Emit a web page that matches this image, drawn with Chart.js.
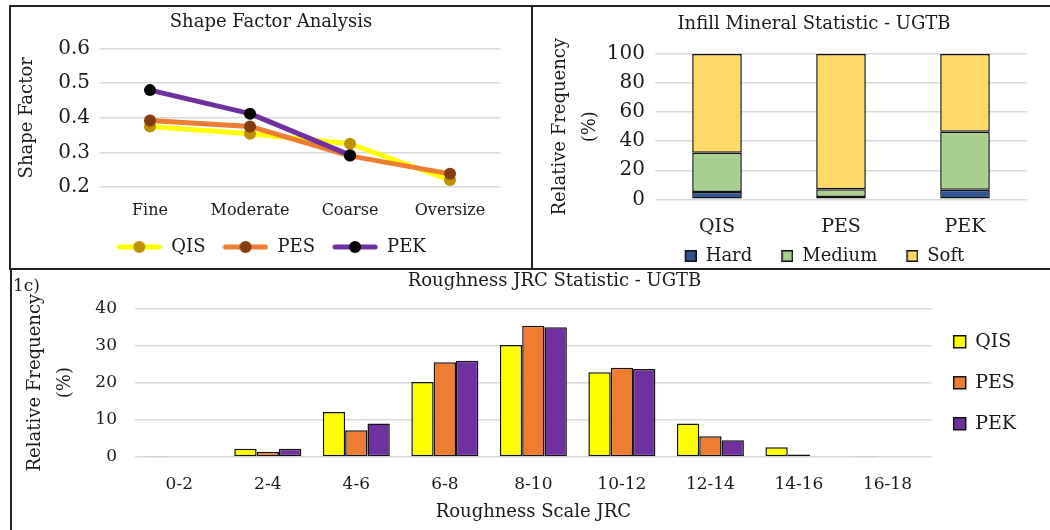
<!DOCTYPE html>
<html>
<head>
<meta charset="utf-8">
<script src="https://cdn.jsdelivr.net/npm/chart.js@4.4.1/dist/chart.umd.min.js"></script>
<style>
  html, body { margin: 0; padding: 0; background: #fff; overflow: hidden; width: 1050px; height: 530px; }
  canvas { position: absolute; }
  .line { position: absolute; background: #222; }
  #tag { position: absolute; left: 13px; top: 275px; font: 17px "DejaVu Serif"; color: #1a1a1a; }
</style>
</head>
<body>
<canvas id="shapeChart" width="519" height="261" style="left:11px; top:7px;"></canvas>
<canvas id="infillChart" width="516" height="267" style="left:534px; top:8px;"></canvas>
<canvas id="jrcChart" width="1037" height="259" style="left:13px; top:271px;"></canvas>

<div class="line" style="left:9px; top:5px; width:1041px; height:2px;"></div>
<div class="line" style="left:9px; top:5px; width:2px; height:265px;"></div>
<div class="line" style="left:531px; top:5px; width:2px; height:265px;"></div>
<div class="line" style="left:9px; top:268px; width:1041px; height:2px;"></div>
<div class="line" style="left:10px; top:268px; width:2px; height:262px;"></div>
<div id="tag">1c)</div>

<script>
// shape factor (line chart)
const shapeCats = ['Fine', 'Moderate', 'Coarse', 'Oversize'];
const qisShape = [0.375, 0.354, 0.325, 0.22];
const pesShape = [0.392, 0.375, 0.29, 0.238];
const pekShape = [0.48, 0.412, 0.292, null];
const shapeTicks = [0.2, 0.3, 0.4, 0.5, 0.6];

// infill mineral (stacked bars)
const infillCats = ['QIS', 'PES', 'PEK'];
const hardVals = [5, 1.5, 6.5];
const mediumVals = [27, 5.5, 40];
const softVals = [68, 93, 53.5];

// roughness JRC (grouped bars)
const jrcCats = ['0-2', '2-4', '4-6', '6-8', '8-10', '10-12', '12-14', '14-16', '16-18'];
const qisJrc = [0.3, 2.2, 12.1, 20.2, 30.1, 22.8, 9.0, 2.6, 0.3];
const pesJrc = [0, 1.4, 7.2, 25.5, 35.3, 24.0, 5.6, 0.7, 0];
const pekJrc = [0, 2.2, 9.0, 25.9, 34.9, 23.7, 4.5, 0, 0];

const ink = '#1a1a1a';
const gridCol = '#d9d9d9';
Chart.defaults.font.family = '"DejaVu Serif"';
Chart.defaults.color = ink;
Chart.defaults.animation = false;
Chart.defaults.responsive = false;
Chart.defaults.devicePixelRatio = 1;
Chart.defaults.plugins.tooltip.enabled = false;

// legend swatch: a short line with the marker on it
function lineSwatch(lineCol, dotCol) {
    const c = document.createElement('canvas');
    c.width = 46; c.height = 14;
    const g = c.getContext('2d');
    g.strokeStyle = lineCol; g.lineWidth = 5; g.lineCap = 'round';
    g.beginPath(); g.moveTo(3, 7); g.lineTo(43, 7); g.stroke();
    g.fillStyle = dotCol;
    g.beginPath(); g.arc(23, 7, 6, 0, Math.PI * 2); g.fill();
    return c;
}

// legend swatch: small outlined square, pushed to the right of a wider slot
function boxSwatch(col) {
    const c = document.createElement('canvas');
    c.width = 33; c.height = 14;
    const g = c.getContext('2d');
    g.fillStyle = col; g.fillRect(21, 1, 12, 12);
    g.strokeStyle = '#111'; g.lineWidth = 1.5; g.strokeRect(21.75, 1.75, 10.5, 10.5);
    return c;
}

function lineSet(label, data, lineCol, dotCol, order) {
    return {
        label: label, data: data, borderColor: lineCol, backgroundColor: lineCol,
        borderWidth: 5, borderJoinStyle: 'round', borderCapStyle: 'round',
        pointRadius: 6, pointBackgroundColor: dotCol, pointBorderWidth: 0,
        tension: 0, order: order
    };
}

new Chart(document.getElementById('shapeChart'), {
    type: 'line',
    data: {
        labels: shapeCats,
        datasets: [
            lineSet('QIS', qisShape, '#ffff00', '#bf9000', 3),
            lineSet('PES', pesShape, '#ed7d31', '#843c0c', 2),
            lineSet('PEK', pekShape, '#7030a0', '#000000', 1)
        ]
    },
    options: {
        layout: { padding: { left: 31, right: 30, top: 0, bottom: 2 } },
        plugins: {
            title: { display: true, text: 'Shape Factor Analysis', color: ink,
                     font: { size: 18, weight: 'normal' }, padding: { top: 5, bottom: 15 } },
            legend: {
                position: 'bottom',
                labels: {
                    usePointStyle: true, pointStyleWidth: 46, padding: 17,
                    font: { size: 18 }, color: ink,
                    generateLabels: function(chart) {
                        return chart.data.datasets.map(function(ds, i) {
                            return { text: ds.label, datasetIndex: i, hidden: false, lineWidth: 0,
                                     fillStyle: ds.borderColor, strokeStyle: ds.borderColor, fontColor: ink,
                                     pointStyle: lineSwatch(ds.borderColor, ds.pointBackgroundColor) };
                        });
                    }
                }
            }
        },
        scales: {
            x: {
                offset: true,
                grid: { display: false, drawTicks: false },
                border: { display: false },
                ticks: { padding: 14, maxRotation: 0, font: { size: 16 } },
                afterFit: function(s) { s.height = 34; }
            },
            y: {
                min: 0.2, max: 0.6,
                grid: { color: gridCol, lineWidth: 1.5, drawTicks: false },
                border: { display: false },
                afterBuildTicks: function(s) { s.ticks = shapeTicks.map(v => ({ value: v })); },
                ticks: { padding: 10, font: { size: 20 } },
                title: { display: true, text: 'Shape Factor', font: { size: 18 }, padding: { top: -25.8, bottom: 0 } },
                afterFit: function(s) { s.width = 58; }
            }
        }
    }
});

function stackSet(label, data, col) {
    return { label: label, data: data, backgroundColor: col, borderColor: '#111', borderWidth: 1.5,
             borderSkipped: false, barPercentage: 0.4, categoryPercentage: 1 };
}

new Chart(document.getElementById('infillChart'), {
    type: 'bar',
    data: {
        labels: infillCats,
        datasets: [
            stackSet('Hard', hardVals, '#2f5597'),
            stackSet('Medium', mediumVals, '#a9d18e'),
            stackSet('Soft', softVals, '#ffd966')
        ]
    },
    options: {
        layout: { padding: { left: 67, right: 23, top: 0, bottom: 0 } },
        plugins: {
            title: { display: true, text: 'Infill Mineral Statistic - UGTB', color: ink,
                     font: { size: 18, weight: 'normal' }, padding: { top: 6, bottom: 18.5 } },
            legend: {
                position: 'bottom',
                labels: {
                    usePointStyle: true, pointStyleWidth: 33, padding: 8,
                    font: { size: 18 }, color: ink,
                    generateLabels: function(chart) {
                        return chart.data.datasets.map(function(ds, i) {
                            return { text: ds.label, datasetIndex: i, hidden: false, lineWidth: 0,
                                     fillStyle: ds.backgroundColor, strokeStyle: '#111', fontColor: ink,
                                     pointStyle: boxSwatch(ds.backgroundColor) };
                        });
                    }
                }
            }
        },
        scales: {
            x: {
                stacked: true,
                grid: { display: false, drawTicks: false },
                border: { display: false },
                ticks: { padding: 16, font: { size: 19 } },
                afterFit: function(s) { s.height = 39.7; }
            },
            y: {
                stacked: true, min: 0, max: 100,
                grid: { color: gridCol, lineWidth: 1.5, drawTicks: false },
                border: { display: false },
                ticks: { stepSize: 20, padding: 10, font: { size: 20 } },
                title: { display: true, text: ['Relative Frequency', '(%)'],
                         font: { size: 18, lineHeight: 30 / 18 }, padding: { top: -56, bottom: 0 } },
                afterFit: function(s) { s.width = 54; }
            }
        }
    }
});

// room for the right legend so the plot ends where the reference does
const jrcCanvas = document.getElementById('jrcChart');
const measure = document.createElement('canvas').getContext('2d');
measure.font = 'normal 19px "DejaVu Serif"';
const jrcNames = ['QIS', 'PES', 'PEK'];
const legText = Math.max.apply(null, jrcNames.map(t => measure.measureText(t).width));
const legPad = 22;
const legWidth = legPad + 12 + 19 / 2 + legText + 10;
const jrcRight = jrcCanvas.width - 918.7 - legWidth;
const jrcAxisW = legWidth - 42.3;
const jrcLeft = 122 - jrcAxisW;

function groupSet(label, data, col) {
    return { label: label, data: data, backgroundColor: col, borderColor: '#111', borderWidth: 1.5,
             borderSkipped: false, barPercentage: 1, categoryPercentage: 0.757 };
}

new Chart(jrcCanvas, {
    type: 'bar',
    data: {
        labels: jrcCats,
        datasets: [
            groupSet(jrcNames[0], qisJrc, '#ffff00'),
            groupSet(jrcNames[1], pesJrc, '#ed7d31'),
            groupSet(jrcNames[2], pekJrc, '#7030a0')
        ]
    },
    options: {
        layout: { padding: { left: jrcLeft, right: jrcRight, top: 0, bottom: 0 } },
        plugins: {
            title: { display: true, text: 'Roughness JRC Statistic - UGTB', color: ink,
                     font: { size: 18, weight: 'normal' }, padding: { top: 0, bottom: 15.7 } },
            legend: {
                position: 'right', fullSize: false,
                labels: { boxWidth: 12, boxHeight: 12, padding: legPad, font: { size: 19 }, color: ink }
            }
        },
        scales: {
            x: {
                grid: { display: false, drawTicks: false },
                border: { display: false },
                ticks: { padding: 17.8, maxRotation: 0, font: { size: 17 } },
                title: { display: true, text: 'Roughness Scale JRC', font: { size: 18 }, padding: { top: 0, bottom: 7 } },
                afterFit: function(s) { s.height = 73; }
            },
            y: {
                min: 0, max: 40,
                grid: { color: gridCol, lineWidth: 1.5, drawTicks: false },
                border: { display: false },
                ticks: { stepSize: 10, padding: 18, font: { size: 17 } },
                title: { display: true, text: ['Relative Frequency', '(%)'],
                         font: { size: 18, lineHeight: 30 / 18 }, padding: { top: 7 - jrcLeft, bottom: 0 } },
                afterFit: function(s) { s.width = jrcAxisW; }
            }
        }
    }
});
</script>
</body>
</html>
